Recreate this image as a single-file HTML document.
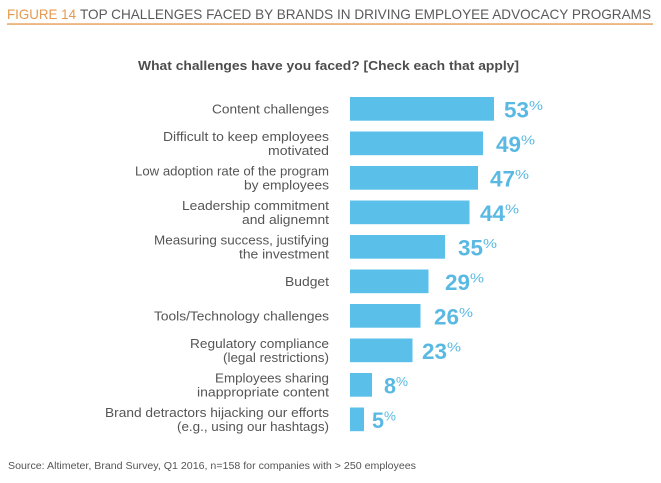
<!DOCTYPE html>
<html><head><meta charset="utf-8"><style>
html,body{margin:0;padding:0;background:#fff;}
svg{display:block;}
text{font-family:"Liberation Sans",sans-serif;}
</style></head><body>
<svg width="661" height="483" viewBox="0 0 661 483" xmlns="http://www.w3.org/2000/svg">
<rect width="661" height="483" fill="#fff"/>
<!-- Title -->
<text x="7" y="19" font-size="14" fill="#e59a4e" textLength="69" lengthAdjust="spacingAndGlyphs">FIGURE 14</text>
<text x="80" y="19" font-size="14" fill="#5a5a5a" textLength="571" lengthAdjust="spacingAndGlyphs">TOP CHALLENGES FACED BY BRANDS IN DRIVING EMPLOYEE ADVOCACY PROGRAMS</text>
<rect x="7" y="23.3" width="646" height="1.5" fill="#e8a462"/>
<!-- Subtitle -->
<text x="138" y="70" font-size="13" font-weight="bold" fill="#4d4d4d" textLength="381" lengthAdjust="spacingAndGlyphs">What challenges have you faced? [Check each that apply]</text>

<g fill="#5bc0e9">
<rect x="350" y="97" width="144" height="23.7"/>
<rect x="350" y="131.5" width="133" height="23.7"/>
<rect x="350" y="166" width="128" height="23.7"/>
<rect x="350" y="200.5" width="119.5" height="23.7"/>
<rect x="350" y="235" width="95" height="23.7"/>
<rect x="350" y="269.5" width="78.5" height="23.7"/>
<rect x="350" y="304" width="70.5" height="23.7"/>
<rect x="350" y="338.5" width="62.5" height="23.7"/>
<rect x="350" y="373" width="22" height="23.7"/>
<rect x="350" y="407.5" width="14" height="23.7"/>
</g>

<!-- Labels -->
<g font-size="13" fill="#555" text-anchor="end">
<text x="329" y="113.5" textLength="117" lengthAdjust="spacingAndGlyphs">Content challenges</text>
<text x="329" y="141" textLength="166" lengthAdjust="spacingAndGlyphs">Difficult to keep employees</text>
<text x="329" y="155" textLength="61" lengthAdjust="spacingAndGlyphs">motivated</text>
<text x="329" y="175.5" textLength="194" lengthAdjust="spacingAndGlyphs">Low adoption rate of the program</text>
<text x="329" y="189.5" textLength="85" lengthAdjust="spacingAndGlyphs">by employees</text>
<text x="329" y="210" textLength="147" lengthAdjust="spacingAndGlyphs">Leadership commitment</text>
<text x="329" y="224" textLength="87" lengthAdjust="spacingAndGlyphs">and alignemnt</text>
<text x="329" y="244.5" textLength="175" lengthAdjust="spacingAndGlyphs">Measuring success, justifying</text>
<text x="329" y="258.5" textLength="90" lengthAdjust="spacingAndGlyphs">the investment</text>
<text x="329" y="286" textLength="44" lengthAdjust="spacingAndGlyphs">Budget</text>
<text x="329" y="320.5" textLength="175" lengthAdjust="spacingAndGlyphs">Tools/Technology challenges</text>
<text x="329" y="348" textLength="139" lengthAdjust="spacingAndGlyphs">Regulatory compliance</text>
<text x="329" y="362" textLength="106" lengthAdjust="spacingAndGlyphs">(legal restrictions)</text>
<text x="329" y="382.5" textLength="114" lengthAdjust="spacingAndGlyphs">Employees sharing</text>
<text x="329" y="396.5" textLength="132" lengthAdjust="spacingAndGlyphs">inappropriate content</text>
<text x="329" y="417" textLength="224" lengthAdjust="spacingAndGlyphs">Brand detractors hijacking our efforts</text>
<text x="329" y="431" textLength="152" lengthAdjust="spacingAndGlyphs">(e.g., using our hashtags)</text>
</g>

<!-- Values -->
<g fill="#5ab9e3">
<text x="504" y="117.5" font-size="22" font-weight="bold" textLength="25" lengthAdjust="spacingAndGlyphs">53</text>
<text x="529" y="110" font-size="13" textLength="14" lengthAdjust="spacingAndGlyphs">%</text>
<text x="496" y="152" font-size="22" font-weight="bold" textLength="25" lengthAdjust="spacingAndGlyphs">49</text>
<text x="521" y="144.5" font-size="13" textLength="14" lengthAdjust="spacingAndGlyphs">%</text>
<text x="490" y="186.5" font-size="22" font-weight="bold" textLength="25" lengthAdjust="spacingAndGlyphs">47</text>
<text x="515" y="179" font-size="13" textLength="14" lengthAdjust="spacingAndGlyphs">%</text>
<text x="480" y="221" font-size="22" font-weight="bold" textLength="25" lengthAdjust="spacingAndGlyphs">44</text>
<text x="505" y="213.5" font-size="13" textLength="14" lengthAdjust="spacingAndGlyphs">%</text>
<text x="458" y="255.5" font-size="22" font-weight="bold" textLength="25" lengthAdjust="spacingAndGlyphs">35</text>
<text x="483" y="248" font-size="13" textLength="14" lengthAdjust="spacingAndGlyphs">%</text>
<text x="445" y="290" font-size="22" font-weight="bold" textLength="25" lengthAdjust="spacingAndGlyphs">29</text>
<text x="470" y="282.5" font-size="13" textLength="14" lengthAdjust="spacingAndGlyphs">%</text>
<text x="434" y="324.5" font-size="22" font-weight="bold" textLength="25" lengthAdjust="spacingAndGlyphs">26</text>
<text x="459" y="317" font-size="13" textLength="14" lengthAdjust="spacingAndGlyphs">%</text>
<text x="422" y="359" font-size="22" font-weight="bold" textLength="25" lengthAdjust="spacingAndGlyphs">23</text>
<text x="447" y="351.5" font-size="13" textLength="14" lengthAdjust="spacingAndGlyphs">%</text>
<text x="384" y="393.5" font-size="22" font-weight="bold" textLength="12" lengthAdjust="spacingAndGlyphs">8</text>
<text x="396" y="386" font-size="13" textLength="12" lengthAdjust="spacingAndGlyphs">%</text>
<text x="372" y="428" font-size="22" font-weight="bold" textLength="12" lengthAdjust="spacingAndGlyphs">5</text>
<text x="384" y="420.5" font-size="13" textLength="12" lengthAdjust="spacingAndGlyphs">%</text>
</g>

<!-- Footnote -->
<text x="8" y="469" font-size="10" fill="#555" textLength="408" lengthAdjust="spacingAndGlyphs">Source: Altimeter, Brand Survey, Q1 2016, n=158 for companies with &gt; 250 employees</text>
</svg>
</body></html>
